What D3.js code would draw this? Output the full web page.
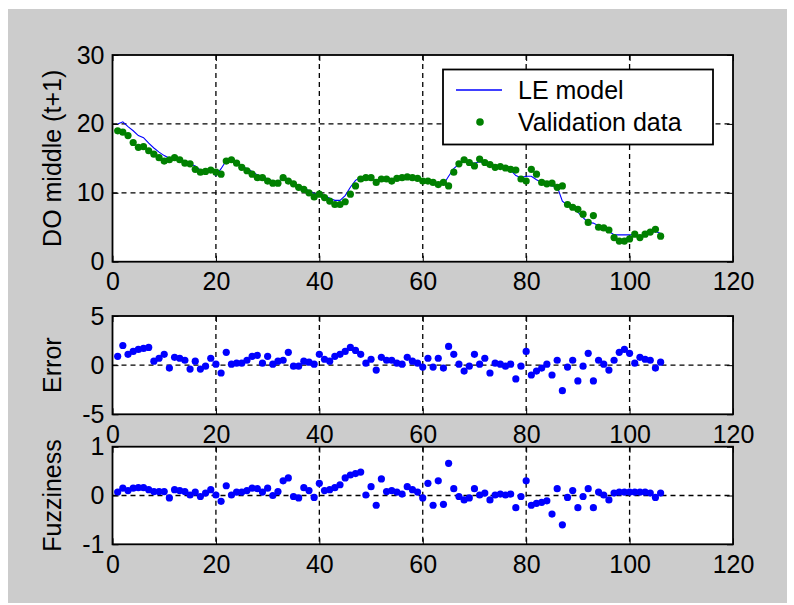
<!DOCTYPE html>
<html>
<head>
<meta charset="utf-8">
<script src="https://cdn.jsdelivr.net/npm/d3@7"></script>
<style>
  body { margin: 0; background: #fff; }
  svg { display: block; }
</style>
</head>
<body>
<svg width="794" height="605"></svg>
<script>
// values, sample n = 1..106
const validation = [19.0,18.8,18.3,17.3,16.6,16.7,16.1,15.6,15.1,14.6,
  14.8,15.1,14.8,14.3,14.2,13.4,13.0,13.1,13.3,13.0,
  12.7,14.6,14.8,14.3,13.7,13.2,12.7,12.2,12.2,11.7,
  11.4,11.4,12.2,11.7,11.3,10.8,10.5,10.0,9.4,9.8,
  9.3,8.8,8.3,8.3,8.7,9.8,11.0,12.0,12.2,12.2,
  11.5,12.0,12.0,11.7,12.1,12.2,12.3,12.2,12.1,11.7,
  11.7,11.5,11.2,11.5,11.0,13.0,14.2,14.8,14.4,13.9,
  14.9,14.4,14.1,13.7,13.8,13.6,13.4,13.3,12.0,11.7,
  13.4,12.7,11.5,11.3,11.4,10.8,11.0,8.3,7.9,7.6,
  6.9,5.7,6.7,5.0,4.9,4.6,3.5,3.0,3.0,3.3,
  4.0,3.5,4.0,4.3,4.7,3.7];

const model = [20.0,20.3,19.6,19.0,18.3,18.0,17.2,16.5,15.9,15.4,
  15.0,15.0,14.9,14.6,14.2,13.9,13.3,13.2,13.3,12.5,
  13.5,14.7,14.8,14.4,13.9,13.5,13.1,12.6,12.4,12.0,
  11.7,11.5,12.3,12.0,11.5,11.0,10.7,10.3,9.9,9.9,
  9.6,9.2,8.9,8.9,9.6,10.8,11.8,12.3,12.3,12.0,
  11.8,12.0,12.0,12.0,12.2,12.4,12.5,12.4,12.2,12.0,
  11.7,11.4,11.2,11.2,12.4,13.5,14.2,14.5,14.4,14.3,
  14.5,14.3,14.0,13.8,13.7,13.5,13.3,12.5,12.2,12.4,
  12.4,11.9,11.5,11.3,11.0,10.9,8.8,8.2,7.8,7.2,
  6.4,5.7,5.6,5.2,4.8,4.4,3.9,3.9,3.9,3.9,
  3.9,3.6,3.8,4.2,4.4,4.1];

const errorVals = [0.9,2.0,1.1,1.4,1.6,1.7,1.8,0.4,0.7,1.1,
  -0.3,0.8,0.7,0.5,-0.4,0.4,-0.4,-0.1,0.7,0.1,
  -0.8,1.3,0.1,0.2,0.2,0.5,0.9,1.0,0.2,0.9,
  0.1,0.4,0.5,1.3,-0.1,-0.1,0.4,0.3,0.1,1.1,
  0.6,0.4,0.9,1.1,1.4,1.8,1.5,1.1,0.2,0.6,
  -0.5,0.8,0.5,0.5,0.2,0.1,0.8,0.4,0.2,-0.2,
  0.7,-0.2,0.7,-0.3,1.9,1.1,0.1,-0.6,-0.1,1.1,
  0.1,0.7,-0.8,0.2,0.1,-0.1,0.1,-1.4,-0.1,1.4,
  -1.0,-0.6,-0.3,0.1,-1.0,0.5,-2.6,-0.2,0.5,-1.6,
  -0.1,1.2,-1.6,0.5,0.1,-0.5,0.5,1.3,1.6,1.2,
  0.2,0.8,0.6,0.5,-0.3,0.3];

const fuzziness = [0.07,0.15,0.1,0.15,0.16,0.16,0.12,0.08,0.08,0.08,
  -0.05,0.12,0.1,0.08,0.01,0.07,-0.02,0.05,0.12,0.01,
  -0.12,0.2,0.01,0.07,0.07,0.1,0.15,0.14,0.07,0.15,
  0.0,0.08,0.3,0.36,-0.02,-0.05,0.16,0.1,-0.04,0.25,
  0.1,0.12,0.16,0.22,0.36,0.42,0.45,0.48,0.01,0.18,
  -0.2,0.34,0.08,0.1,0.07,0.03,0.18,0.12,0.07,-0.05,
  0.25,-0.2,0.3,-0.18,0.66,0.14,-0.02,-0.09,-0.05,0.14,
  0.01,0.05,-0.09,0.01,0.03,0.01,0.03,-0.25,-0.02,0.3,
  -0.2,-0.16,-0.14,-0.11,-0.38,0.14,-0.6,-0.04,0.1,-0.25,
  -0.02,0.14,-0.25,0.07,0.01,-0.09,0.05,0.07,0.07,0.07,
  0.07,0.07,0.07,0.05,-0.04,0.05];

const xTicks = [0, 20, 40, 60, 80, 100, 120];
const doTicks = [0, 10, 20, 30];
const errTicks = [-5, 0, 5];
const fuzzTicks = [-1, 0, 1];
const legendLabels = ["LE model", "Validation data"];

const svg = d3.select("svg");
const font = "Arial, 'Liberation Sans', Helvetica, sans-serif";
const fontSize = 25;
const dotR = 3.6;
const tickFmt = d => String(d);   // plain hyphen minus, no decimals

// figure background
svg.append("rect")
  .attr("x", 8).attr("y", 9)
  .attr("width", 779).attr("height", 594)
  .attr("fill", "#cccccc");

const x = d3.scaleLinear().domain([0, 120]).range([112.5, 733]);
const n = d3.range(1, validation.length + 1);

function panel(top, bottom, yTicks, label, drawData) {
  const y = d3.scaleLinear().domain(d3.extent(yTicks)).range([bottom, top]);
  const g = svg.append("g");

  g.append("rect")
    .attr("x", x(0)).attr("y", top)
    .attr("width", x(120) - x(0)).attr("height", bottom - top)
    .attr("fill", "#fff");

  // dashed grid
  g.append("g").selectAll("line")
    .data(xTicks.slice(1, -1))
    .join("line")
    .attr("x1", d => x(d)).attr("x2", d => x(d))
    .attr("y1", top).attr("y2", bottom)
    .attr("stroke", "#000").attr("stroke-width", 1.3)
    .attr("stroke-dasharray", "5,4");
  g.append("g").selectAll("line")
    .data(yTicks.slice(1, -1))
    .join("line")
    .attr("x1", x(0)).attr("x2", x(120))
    .attr("y1", d => y(d)).attr("y2", d => y(d))
    .attr("stroke", "#000").attr("stroke-width", 1.3)
    .attr("stroke-dasharray", "5,4");

  drawData(g, y);

  const axisStyle = sel => {
    sel.attr("font-size", fontSize).attr("font-family", font).attr("color", "#000");
    sel.select(".domain").remove();
  };

  g.append("g")
    .attr("transform", `translate(0,${bottom})`)
    .call(d3.axisBottom(x).tickValues(xTicks).tickFormat(tickFmt).tickSize(-6).tickPadding(11))
    .call(axisStyle);
  g.append("g")
    .attr("transform", `translate(0,${top})`)
    .call(d3.axisTop(x).tickValues(xTicks).tickSize(-6).tickFormat(""))
    .call(axisStyle);
  g.append("g")
    .attr("transform", `translate(${x(0)},0)`)
    .call(d3.axisLeft(y).tickValues(yTicks).tickFormat(tickFmt).tickSize(-6).tickPadding(8))
    .call(axisStyle);
  g.append("g")
    .attr("transform", `translate(${x(120)},0)`)
    .call(d3.axisRight(y).tickValues(yTicks).tickSize(-6).tickFormat(""))
    .call(axisStyle);

  g.selectAll(".tick text").attr("fill", "#000");

  g.append("rect")
    .attr("x", x(0)).attr("y", top)
    .attr("width", x(120) - x(0)).attr("height", bottom - top)
    .attr("fill", "none")
    .attr("stroke", "#000").attr("stroke-width", 1.8);

  g.append("text")
    .attr("transform", `translate(61,${(top + bottom) / 2}) rotate(-90)`)
    .attr("text-anchor", "middle")
    .attr("font-size", fontSize).attr("font-family", font)
    .text(label);
}

// top: DO middle
panel(55, 261.7, doTicks, "DO middle (t+1)", (g, y) => {
  const line = d3.line().x((d, i) => x(n[i])).y(d => y(d));
  g.append("path")
    .datum(model)
    .attr("d", line)
    .attr("fill", "none")
    .attr("stroke", "#0000ff")
    .attr("stroke-width", 1.1);

  g.append("g").selectAll("circle")
    .data(validation)
    .join("circle")
    .attr("cx", (d, i) => x(n[i]))
    .attr("cy", d => y(d))
    .attr("r", dotR)
    .attr("fill", "#008000");

  // legend
  const lg = g.append("g");
  lg.append("rect")
    .attr("x", 443).attr("y", 69.5)
    .attr("width", 270).attr("height", 75)
    .attr("fill", "#fff")
    .attr("stroke", "#000").attr("stroke-width", 1.8);
  lg.append("line")
    .attr("x1", 456).attr("x2", 502)
    .attr("y1", 90).attr("y2", 90)
    .attr("stroke", "#0000ff").attr("stroke-width", 1.3);
  lg.append("circle")
    .attr("cx", 480).attr("cy", 122)
    .attr("r", 3.8)
    .attr("fill", "#008000");
  lg.selectAll("text")
    .data(legendLabels)
    .join("text")
    .attr("x", 518)
    .attr("y", (d, i) => 98.5 + i * 32)
    .attr("font-size", fontSize).attr("font-family", font)
    .text(d => d);
});

// middle: Error
panel(316, 414.3, errTicks, "Error", (g, y) => {
  g.append("g").selectAll("circle")
    .data(errorVals)
    .join("circle")
    .attr("cx", (d, i) => x(n[i]))
    .attr("cy", d => y(d))
    .attr("r", dotR)
    .attr("fill", "#0000ff");
});

// bottom: Fuzziness
panel(446.7, 544.3, fuzzTicks, "Fuzziness", (g, y) => {
  g.append("g").selectAll("circle")
    .data(fuzziness)
    .join("circle")
    .attr("cx", (d, i) => x(n[i]))
    .attr("cy", d => y(d))
    .attr("r", dotR)
    .attr("fill", "#0000ff");
});
</script>
</body>
</html>
